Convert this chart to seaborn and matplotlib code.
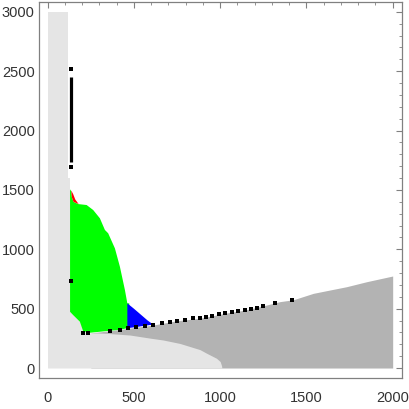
import matplotlib
matplotlib.use("Agg")
import matplotlib.pyplot as plt
from matplotlib.ticker import MultipleLocator
import seaborn as sns
import pandas as pd

# region boundaries
bar_x = [0, 130, 130, 120, 120, 0]
bar_y = [0, 0, 1600, 1600, 3000, 3000]

light_x = [0, 130, 148, 187, 206, 245, 341, 477, 593, 670, 767, 805, 883, 921, 979, 1000, 1008, 1010]
light_y = [480, 480, 446, 390, 320, 297, 292, 278, 252, 236, 207, 190, 155, 125, 82, 55, 20, 0]

dark_x = [250, 361, 467, 612, 748, 884, 1028, 1144, 1246, 1346, 1424, 1540, 1636, 1733, 1849, 2000]
dark_y = [296, 314, 334, 362, 398, 419, 461, 488, 522, 559, 575, 629, 657, 685, 727, 775]

green_x = [130, 137, 140, 150, 177, 226, 264, 303, 332, 351, 390, 419, 448, 462, 473, 473, 419, 361, 245, 206, 187, 148, 130]
green_y = [1505, 1490, 1440, 1400, 1381, 1373, 1331, 1261, 1163, 1135, 1008, 853, 657, 545, 545, 340, 322, 314, 297, 310, 390, 446, 474]

blue_x = [462, 500, 540, 580, 612, 462]
blue_y = [545, 500, 450, 400, 366, 335]

red_x = [137, 148, 160, 180, 150, 140]
red_y = [1495, 1465, 1420, 1381, 1400, 1440]

# black markers
vbar_x = [135, 135]
vbar_y = [1733, 2448]
dot_x = [135, 135, 133, 206, 235, 361, 419, 467, 515, 564, 612, 661, 709, 748, 796, 844, 884,
         918, 954, 994, 1028, 1067, 1105, 1144, 1177, 1215, 1246, 1318, 1416]
dot_y = [2519, 1691, 736, 292, 292, 314, 320, 334, 348, 356, 362, 376, 390, 398, 404, 419, 425,
         432, 441, 452, 461, 469, 480, 488, 497, 508, 522, 545, 573]

sns.set_style("white")
plt.rcParams['font.family'] = ['Liberation Sans', 'DejaVu Sans']

fig = plt.figure(figsize=(4.09, 4.09), dpi=100)
ax = fig.add_axes([39 / 409, 1 - 378 / 409, 363 / 409, 376 / 409])

light = '#e5e5e5'
ax.fill_between(dark_x, 0, dark_y, color='#b3b3b3', lw=0)
ax.fill_between(light_x, 0, light_y, color=light, lw=0)
ax.fill(bar_x, bar_y, color=light, lw=0)
ax.fill(green_x, green_y, color='#00ff00', lw=0)
ax.fill(blue_x, blue_y, color='#0000ff', lw=0)
ax.fill(red_x, red_y, color='#ff0000', lw=0)

ax.plot(vbar_x, vbar_y, color='black', lw=2.3, solid_capstyle='butt')
dots = pd.DataFrame({'x': dot_x, 'y': dot_y})
sns.scatterplot(data=dots, x='x', y='y', marker='s', s=7, color='black', linewidth=0, ax=ax)

ax.set_xlim(-50, 2054)
ax.set_ylim(-84, 3083)
ax.set_xlabel('')
ax.set_ylabel('')

ax.xaxis.set_major_locator(MultipleLocator(500))
ax.xaxis.set_minor_locator(MultipleLocator(100))
ax.yaxis.set_major_locator(MultipleLocator(500))
ax.yaxis.set_minor_locator(MultipleLocator(100))
frame = '#808080'
ax.tick_params(which='both', direction='in', top=True, right=True, color=frame,
               labelsize=10.5, labelcolor='#333333')
ax.tick_params(which='major', length=4, width=0.8)
ax.tick_params(which='minor', length=2, width=0.6)
ax.tick_params(axis='x', pad=9)
ax.tick_params(axis='y', pad=3)
for s in ax.spines.values():
    s.set_color(frame)
    s.set_linewidth(0.9)

fig.savefig('out.png', dpi=100)
